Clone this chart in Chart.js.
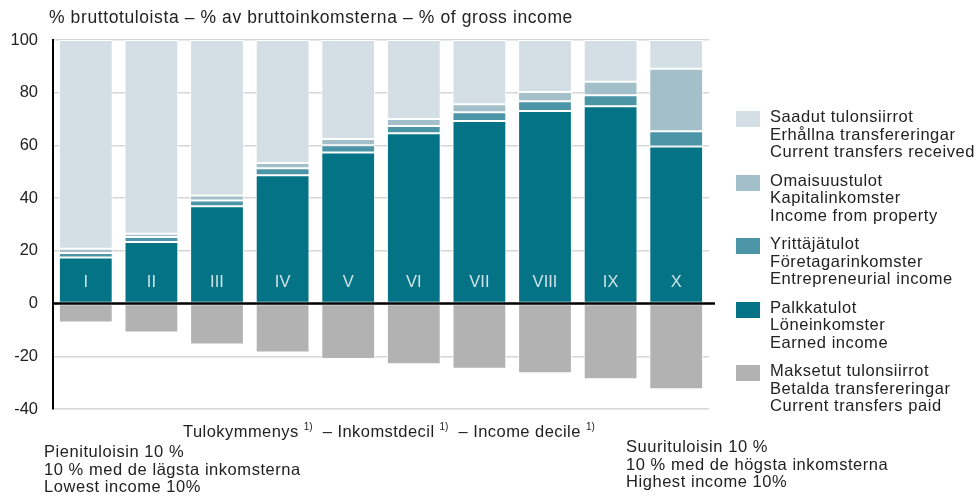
<!DOCTYPE html>
<html>
<head>
<meta charset="utf-8">
<script src="https://cdn.jsdelivr.net/npm/chart.js@4.4.1/dist/chart.umd.min.js"></script>
<style>
  html, body { margin: 0; padding: 0; background: #fff; }
  body { width: 976px; height: 496px; position: relative; overflow: hidden;
         font-family: "Liberation Sans", Arial, sans-serif; color: #222; }
  #wrap { position: absolute; left: 0; top: 0; width: 976px; height: 496px; }
  .txt { position: absolute; font-size: 16.5px; letter-spacing: 0.55px; line-height: 17.5px; white-space: nowrap; }
  #title { left: 49px; top: 9px; font-size: 17.5px; letter-spacing: 0.6px; }
  #xtitle { left: 183px; top: 423px; letter-spacing: 0.45px; }
  #xtitle sup { font-size: 10px; letter-spacing: 0; vertical-align: 7px; line-height: 0; }
  #lowNote { left: 44px; top: 443px; }
  #highNote { left: 626px; top: 438px; }
  .leg { position: absolute; left: 736px; }
  .leg i { position: absolute; left: 0; top: 3px; width: 24px; height: 16px; }
  .leg span { position: absolute; left: 34px; top: 0; font-size: 16.5px; letter-spacing: 0.55px; line-height: 17.5px; white-space: nowrap; }
</style>
</head>
<body>
<div id="wrap"><canvas id="chart" width="976" height="496"></canvas></div>

<div class="txt" id="title">% bruttotuloista – % av bruttoinkomsterna – % of gross income</div>
<div class="txt" id="xtitle">Tulokymmenys <sup>1)</sup> &nbsp;– Inkomstdecil <sup>1)</sup> &nbsp;– Income decile <sup>1)</sup></div>
<div class="txt" id="lowNote">Pienituloisin 10 %<br>10 % med de lägsta inkomsterna<br>Lowest income 10%</div>
<div class="txt" id="highNote">Suurituloisin 10 %<br>10 % med de högsta inkomsterna<br>Highest income 10%</div>
<div id="legend"></div>

<script>
// income deciles, lowest to highest
const deciles = ['I', 'II', 'III', 'IV', 'V', 'VI', 'VII', 'VIII', 'IX', 'X'];

// shares of gross income, %
const earnedIncome    = [17.5, 23.4, 36.9, 48.7, 57.3, 64.6, 69.3, 73.1, 74.9, 59.6];
const entrepreneurial = [1.7, 1.9, 2.2, 2.6, 2.8, 2.8, 3.3, 3.7, 4.1, 5.8];
const propertyIncome  = [1.6, 1.2, 1.9, 2.0, 2.3, 2.6, 3.0, 3.5, 5.2, 23.7];
const transfersRecv   = [79.2, 73.5, 59.0, 46.7, 37.6, 30.0, 24.4, 19.7, 15.8, 10.9];
const transfersPaid   = [-7.2, -11.0, -15.5, -18.6, -21.0, -23.0, -24.7, -26.4, -28.7, -32.5];

const yTicks = [100, 80, 60, 40, 20, 0, -20, -40];

const seriesNames = {
  recv: ['Saadut tulonsiirrot', 'Erhållna transfereringar', 'Current transfers received'],
  prop: ['Omaisuustulot', 'Kapitalinkomster', 'Income from property'],
  entr: ['Yrittäjätulot', 'Företagarinkomster', 'Entrepreneurial income'],
  earn: ['Palkkatulot', 'Löneinkomster', 'Earned income'],
  paid: ['Maksetut tulonsiirrot', 'Betalda transfereringar', 'Current transfers paid']
};
const colors = {
  recv: '#d3dfe5',
  prop: '#a3c0ca',
  entr: '#4b95a6',
  earn: '#037385',
  paid: '#b2b2b2'
};

// legend, top to bottom
const legendOrder = ['recv', 'prop', 'entr', 'earn', 'paid'];
const legendEl = document.getElementById('legend');
legendOrder.forEach((key, i) => {
  const d = document.createElement('div');
  d.className = 'leg';
  d.style.top = (108 + i * 63.5) + 'px';
  d.innerHTML = '<i style="background:' + colors[key] + '"></i><span>' + seriesNames[key].join('<br>') + '</span>';
  legendEl.appendChild(d);
});

const ds = (key, data) => ({
  label: seriesNames[key][0],
  data: data,
  backgroundColor: colors[key],
  borderColor: '#ffffff',
  borderWidth: 1,
  borderSkipped: false,
  stack: 'inc',
  barPercentage: 0.82,
  categoryPercentage: 1.0
});

// roman numerals inside bars + black zero line on top
const overlay = {
  id: 'overlay',
  afterDatasetsDraw(chart) {
    const { ctx, chartArea, scales: { x, y } } = chart;
    const y0 = y.getPixelForValue(0);
    ctx.save();
    ctx.strokeStyle = '#000';
    ctx.lineWidth = 2.5;
    ctx.beginPath();
    ctx.moveTo(chartArea.left, y0);
    ctx.lineTo(chartArea.right + 6, y0);
    ctx.stroke();

    ctx.fillStyle = '#cfe2e7';
    ctx.font = '16.5px "Liberation Sans", Arial, sans-serif';
    ctx.textAlign = 'center';
    ctx.textBaseline = 'middle';
    deciles.forEach((d, i) => {
      ctx.fillText(d, x.getPixelForValue(i), y.getPixelForValue(8));
    });
    ctx.restore();
  }
};

new Chart(document.getElementById('chart'), {
  type: 'bar',
  data: {
    labels: deciles,
    datasets: [
      ds('earn', earnedIncome),
      ds('entr', entrepreneurial),
      ds('prop', propertyIncome),
      ds('recv', transfersRecv),
      ds('paid', transfersPaid)
    ]
  },
  options: {
    responsive: false,
    animation: false,
    events: [],
    layout: { padding: { left: 0, right: 267, top: 40, bottom: 87 } },
    plugins: { legend: { display: false }, tooltip: { enabled: false } },
    scales: {
      x: {
        stacked: true,
        display: false,
        grid: { display: false }
      },
      y: {
        stacked: true,
        min: -40,
        max: 100,
        afterFit(scale) { scale.width = 53; },
        afterBuildTicks(scale) { scale.ticks = yTicks.map(v => ({ value: v })); },
        ticks: {
          color: '#222',
          padding: 15,
          font: { size: 16.5, family: '"Liberation Sans", Arial, sans-serif' }
        },
        grid: { color: '#d6d6d6', lineWidth: 1.5, drawTicks: false },
        border: { display: true, color: '#000', width: 2 }
      }
    }
  },
  plugins: [overlay]
});
</script>
</body>
</html>
